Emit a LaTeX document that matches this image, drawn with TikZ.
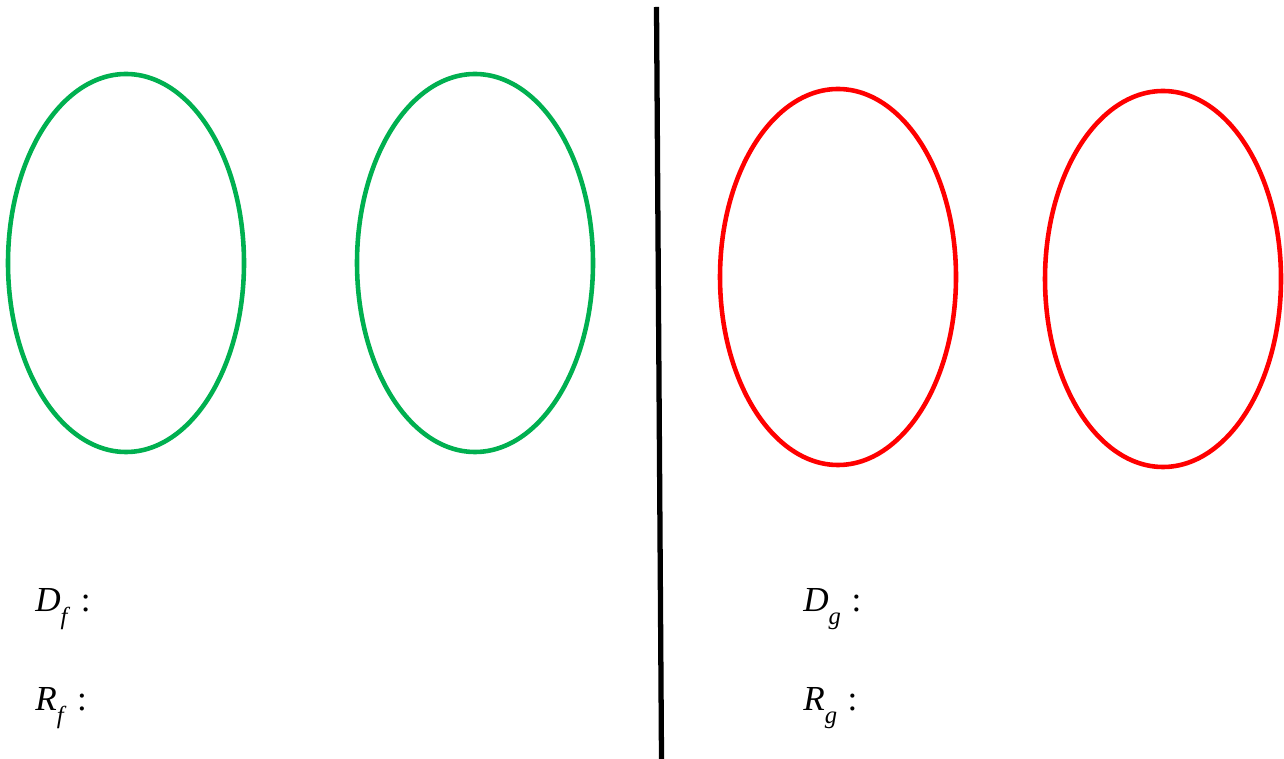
\documentclass[tikz,border=0pt]{standalone}
\usepackage{fontspec}
\setmainfont{Liberation Serif}
\usepackage{xcolor}
\usepackage{tikz}
\definecolor{setgreen}{RGB}{0,176,80}
\definecolor{setred}{RGB}{255,0,0}
\tikzset{
set/.style={line width=2.6pt},
lab/.style={anchor=west,inner sep=0pt,font=\fontsize{20}{23}\selectfont}
}
\newcommand{\setlab}[2]{\textit{#1}\raisebox{-0.38em}{\fontsize{14}{15}\selectfont\textit{#2}}\hspace{0.3em}:}

\begin{document}
\begin{tikzpicture}[x=0.02cm,y=-0.02cm]
\useasboundingbox (0,0) rectangle (1284,759);
%domains and ranges
\draw[set,setgreen](126,263)ellipse[x radius=118,y radius=189];
\draw[set,setgreen](475,263)ellipse[x radius=118,y radius=189];
\draw[set,setred](838,277)ellipse[x radius=118,y radius=188];
\draw[set,setred](1163,279)ellipse[x radius=118,y radius=188];
%divider
\coordinate (top) at (656.5,7);
\coordinate (bot) at (661.5,759);
\draw[line width=3pt](top)--(bot);
\node[lab] (df) at (35,609) {\setlab{D}{f}};
\node[lab] (rf) at (35,708) {\setlab{R}{f}};
\node[lab] (dg) at (803,609) {\setlab{D}{g}};
\node[lab] (rg) at (803,708) {\setlab{R}{g}};
\end{tikzpicture}
\end{document}
